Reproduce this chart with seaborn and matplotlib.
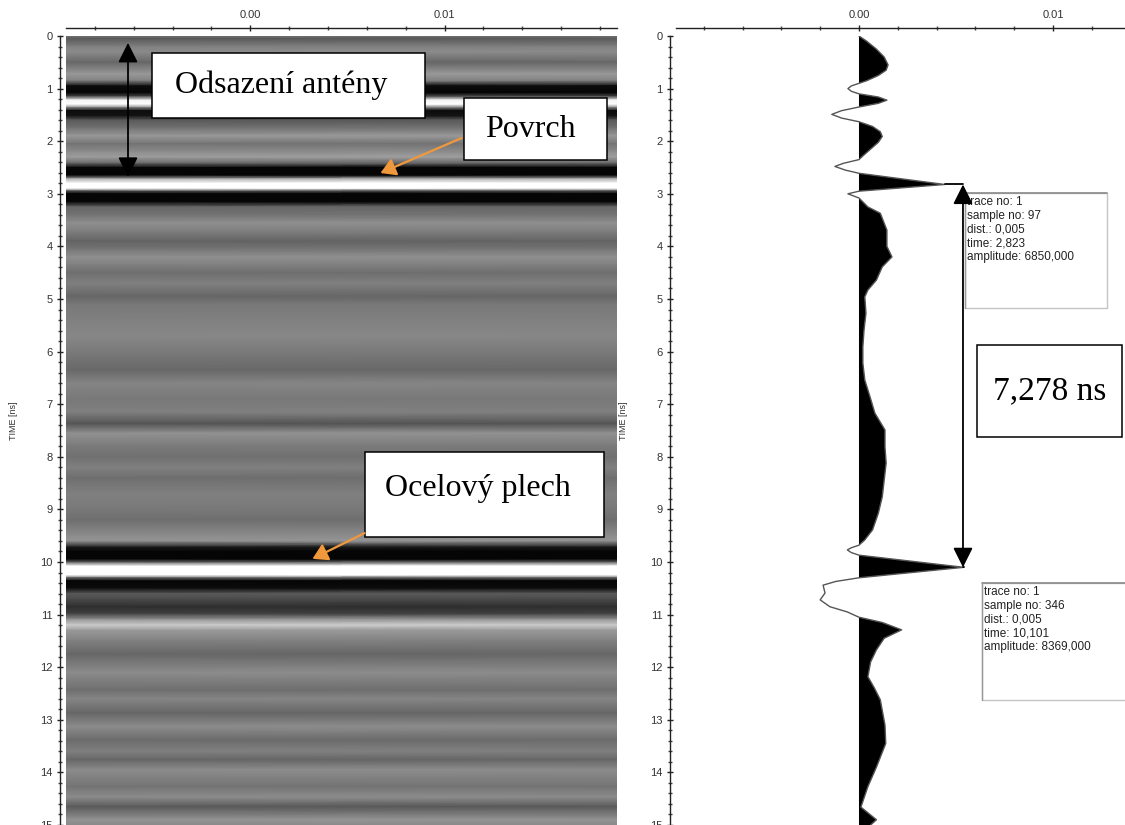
import numpy as np
import matplotlib
matplotlib.use("Agg")
import matplotlib.pyplot as plt
import seaborn as sns
from matplotlib.patches import Rectangle

# ---------------- data ----------------
# radargram: gray level (0 = black, 1 = white) of the horizontal bands vs. time [ns]
band_time = [0.00, 0.05, 0.20, 0.30, 0.50, 0.72, 0.85, 0.95, 1.08, 1.15, 1.22, 1.30, 1.36,
             1.42, 1.52, 1.60, 1.75, 1.90, 2.05, 2.20, 2.30, 2.42, 2.50, 2.65, 2.72, 2.80,
             2.90, 2.95, 3.00, 3.15, 3.25, 3.40, 3.55, 3.70, 3.90, 4.05, 4.20, 4.35, 4.50,
             4.70, 4.95, 5.10, 5.40, 5.70, 6.00, 6.35, 6.60, 6.90, 7.15, 7.37, 7.55, 7.80,
             8.00, 8.20, 8.40, 8.70, 9.00, 9.20, 9.50, 9.60, 9.72, 9.80, 9.95, 10.02, 10.08,
             10.25, 10.30, 10.36, 10.50, 10.60, 10.70, 10.85, 10.98, 11.10, 11.20, 11.30,
             11.50, 11.75, 12.10, 12.43, 12.60, 12.87, 13.13, 13.38, 13.60, 13.76, 13.95,
             14.27, 14.47, 14.65, 14.90, 15.10]
band_gray = [0.45, 0.35, 0.50, 0.55, 0.40, 0.60, 0.50, 0.05, 0.02, 0.30, 0.95, 1.00, 0.50,
             0.05, 0.08, 0.35, 0.45, 0.60, 0.45, 0.55, 0.62, 0.40, 0.02, 0.02, 0.70, 1.00,
             1.00, 0.30, 0.02, 0.02, 0.40, 0.45, 0.56, 0.50, 0.39, 0.46, 0.56, 0.50, 0.43,
             0.50, 0.40, 0.47, 0.50, 0.53, 0.48, 0.41, 0.52, 0.47, 0.50, 0.33, 0.57, 0.48,
             0.44, 0.50, 0.43, 0.50, 0.47, 0.43, 0.55, 0.58, 0.10, 0.02, 0.02, 0.50, 1.00,
             1.00, 0.40, 0.02, 0.05, 0.35, 0.30, 0.18, 0.25, 0.60, 0.80, 0.60,
             0.50, 0.40, 0.55, 0.43, 0.52, 0.40, 0.55, 0.42, 0.50, 0.40, 0.55,
             0.45, 0.55, 0.35, 0.58, 0.50]

# single trace (wiggle): displacement on the distance axis vs. time [ns]
trace_time = [0.00, 0.10, 0.25, 0.40, 0.55, 0.65, 0.75, 0.85, 0.90, 0.95, 1.00, 1.05, 1.10,
              1.16, 1.22, 1.28, 1.35, 1.42, 1.49, 1.56, 1.63, 1.72, 1.82, 1.91, 2.02, 2.15,
              2.28, 2.35, 2.42, 2.48, 2.55, 2.61, 2.823, 2.95, 3.00, 3.08, 3.25, 3.37, 3.69,
              4.00, 4.20, 4.39, 4.64, 4.83, 4.96, 5.27, 5.59, 5.91, 6.22, 6.54, 6.86, 7.17,
              7.49, 7.81, 8.12, 8.44, 8.76, 9.07, 9.39, 9.58, 9.68, 9.73, 9.77, 9.82, 9.87,
              10.101, 10.30, 10.37, 10.44, 10.59, 10.72, 10.85, 10.95, 11.05, 11.15, 11.29,
              11.45, 11.67, 11.90, 12.18, 12.40, 12.62, 13.10, 13.45, 13.90, 14.27, 14.66,
              14.90, 15.00]
trace_amp = [0.0, 0.0004, 0.0009, 0.0013, 0.0015, 0.0014, 0.0010, 0.0004, 0.0, -0.0004,
             -0.00057, -0.0004, 0.0, 0.0010, 0.00144, 0.0010, 0.0, -0.0009, -0.0014, -0.0009,
             0.0, 0.0007, 0.0011, 0.0012, 0.0010, 0.0006, 0.0002, 0.0, -0.0008, -0.00124,
             -0.0007, 0.0, 0.00442, 0.0, -0.00057, 0.0, 0.00046, 0.0011, 0.00144, 0.00144,
             0.0017, 0.0012, 0.0009, 0.00046, 0.0003, 0.00036, 0.00026, 0.0002, 0.0002,
             0.0003, 0.00057, 0.00082, 0.00134, 0.00134, 0.0014, 0.0013, 0.0012, 0.0010,
             0.0007, 0.0003, 0.0, -0.0004, -0.0006, -0.0004, 0.0, 0.0054, 0.0, -0.0012,
             -0.00185, -0.00175, -0.0020, -0.0015, -0.0006, 0.0, 0.0012, 0.0022, 0.0013,
             0.0009, 0.0006, 0.00046, 0.0008, 0.0011, 0.00134, 0.00138, 0.0009, 0.00046,
             0.0001, 0.0009, 0.0006]

x_ticks = [0.00, 0.01]
x_tick_labels = ["0.00", "0.01"]
y_ticks = list(range(0, 16))

pick_times = [2.823, 10.101]
pick_peaks = [0.00442, 0.0054]
pick_info = [
    "trace no: 1\nsample no: 97\ndist.: 0,005\ntime: 2,823\namplitude: 6850,000",
    "trace no: 1\nsample no: 346\ndist.: 0,005\ntime: 10,101\namplitude: 8369,000",
]
interval_label = "7,278 ns"
label_offset = "Odsazení antény"
label_surface = "Povrch"
label_steel = "Ocelový plech"
y_label = "TIME [ns]"

# ---------------- style ----------------
sns.set_style("white")
plt.rcParams["font.family"] = ["Liberation Sans", "DejaVu Sans"]
SERIF = ["Liberation Serif", "DejaVu Serif"]
ORANGE = "#F0983C"
TICKC = "#333333"

W, H = 1125, 825
fig = plt.figure(figsize=(W / 100, H / 100), dpi=100)
ax1 = fig.add_axes([66 / W, 0, (617 - 66) / W, (H - 36) / H])
ax2 = fig.add_axes([676 / W, 0, (W - 676) / W, (H - 36) / H])


def style_axis(ax, xlim):
    ax.set_xlim(*xlim)
    ax.set_ylim(15.0, 0.0)
    for s in ("right", "bottom"):
        ax.spines[s].set_visible(False)
    ax.spines["left"].set_position(("outward", 4))
    ax.spines["top"].set_position(("outward", 6))
    for s in ("left", "top"):
        ax.spines[s].set_color("#222")
        ax.spines[s].set_linewidth(1.0)
    ax.xaxis.tick_top()
    ax.set_xticks(x_ticks)
    ax.set_xticklabels(x_tick_labels)
    ax.set_xticks(np.arange(-0.008, xlim[1], 0.002), minor=True)
    ax.set_yticks(y_ticks)
    ax.set_yticklabels([str(v) for v in y_ticks])
    ax.set_yticks(np.arange(0, 15.01, 0.2), minor=True)
    ax.tick_params(which="major", direction="inout", length=5, width=1.0, color="#222",
                   labelsize=8, labelcolor=TICKC, pad=3)
    ax.tick_params(which="minor", direction="inout", length=2.5, width=1.0, color="#444")
    ax.tick_params(axis="x", which="both", top=True, bottom=False)
    ax.tick_params(axis="y", which="both", left=True, right=False)
    ax.set_ylabel(y_label, fontsize=6.5, color=TICKC)
    ax.grid(False)


# ---------------- left: radargram ----------------
style_axis(ax1, (-0.00948, 0.01887))
bt = np.asarray(band_time)
bg = np.asarray(band_gray)
xl = ax1.get_xlim()
X = np.column_stack([np.full_like(bt, xl[0]), np.full_like(bt, xl[1])])
T = np.column_stack([bt, bt])
C = np.column_stack([bg, bg])
ax1.pcolormesh(X, T, C, shading="gouraud", cmap="gray", vmin=0, vmax=1, zorder=0)
ax1.yaxis.set_label_coords((18 - 66) / 551, 0.513)


def box_text(ax, x0, x1, t0, t1, text, tx, ty, size=23):
    ax.add_patch(Rectangle((x0, t0), x1 - x0, t1 - t0, facecolor="white",
                           edgecolor="black", lw=1.1, zorder=5, clip_on=False))
    ax.text(tx, ty, text, family=SERIF, fontsize=size, ha="center", va="center",
            color="black", zorder=6, clip_on=False)


box_text(ax1, -0.00505, 0.00897, 0.323, 1.559, label_offset, 0.00158, 0.93)
box_text(ax1, 0.01098, 0.01835, 1.179, 2.357, label_surface, 0.01440, 1.77)
box_text(ax1, 0.00588, 0.0182, 7.909, 9.525, label_steel, 0.01170, 8.60)

ax1.annotate("", xy=(-0.00629, 0.13), xytext=(-0.00629, 2.68),
             arrowprops=dict(arrowstyle="<|-|>,head_length=0.6,head_width=0.3",
                             mutation_scale=20, color="black", lw=1.3,
                             shrinkA=0, shrinkB=0), zorder=6)
ax1.annotate("", xy=(0.0067, 2.605), xytext=(0.01088, 1.939),
             arrowprops=dict(arrowstyle="-|>,head_length=0.5,head_width=0.3",
                             mutation_scale=18, color=ORANGE, lw=1.6,
                             shrinkA=0, shrinkB=0), zorder=6)
ax1.annotate("", xy=(0.0032, 9.94), xytext=(0.00588, 9.45),
             arrowprops=dict(arrowstyle="-|>,head_length=0.5,head_width=0.3",
                             mutation_scale=18, color=ORANGE, lw=1.6,
                             shrinkA=0, shrinkB=0), zorder=6)

# ---------------- right: single trace ----------------
style_axis(ax2, (-0.00943, 0.01371))
ax2.yaxis.set_label_coords((628 - 676) / 449, 0.513)
tt = np.asarray(trace_time)
ta = np.asarray(trace_amp)
ax2.fill_betweenx(tt, 0, ta, where=ta > 0, interpolate=True, color="black", lw=0, zorder=2)
sns.lineplot(x=trace_amp, y=trace_time, orient="y", sort=False, estimator=None,
             color="#555555", lw=1.0, ax=ax2, zorder=3)

arrow_x = 0.00536
for t, p in zip(pick_times, pick_peaks):
    ax2.plot([p, arrow_x], [t, t], color="black", lw=1.3, zorder=4)
ax2.annotate("", xy=(arrow_x, pick_times[0]), xytext=(arrow_x, pick_times[1]),
             arrowprops=dict(arrowstyle="<|-|>,head_length=0.6,head_width=0.3",
                             mutation_scale=20, color="black", lw=1.3,
                             shrinkA=0, shrinkB=0), zorder=7)

# info boxes
info_boxes = [(0.00546, 0.01278, 2.985, 5.171), (0.00634, 0.0140, 10.40, 12.62)]
for (x0, x1, t0, t1), txt in zip(info_boxes, pick_info):
    ax2.add_patch(Rectangle((x0, t0), x1 - x0, t1 - t0, facecolor="white",
                            edgecolor="#c4c4c4", lw=1.0, zorder=5, clip_on=False))
    ax2.plot([x0, x1], [t0, t0], color="#8a8a8a", lw=1.2, zorder=5, clip_on=False)
    ax2.plot([x0, x0], [t0, t1], color="#9a9a9a", lw=1.0, zorder=5, clip_on=False)
    ax2.text(x0 + 0.00012, t0 + 0.06, txt, fontsize=8.5, color="#222", va="top",
             ha="left", linespacing=1.2, zorder=6, clip_on=False)

box_text(ax2, 0.00608, 0.01356, 5.875, 7.624, interval_label, 0.00982, 6.75, size=24)

fig.savefig("out.png", dpi=100)
